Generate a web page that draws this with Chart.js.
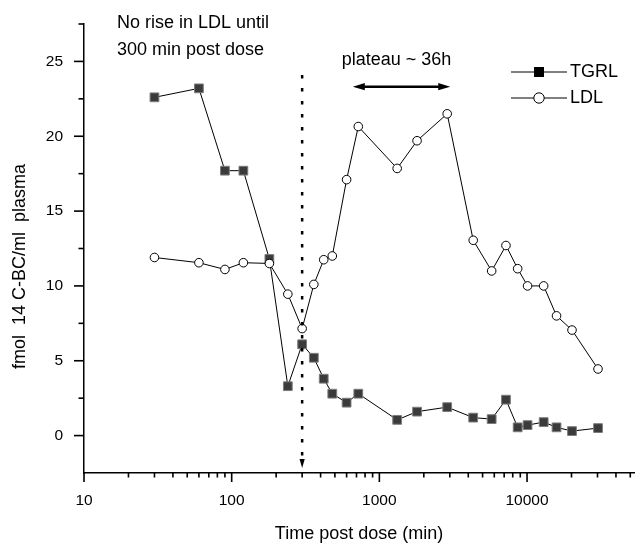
<!DOCTYPE html>
<html>
<head>
<meta charset="utf-8">
<script src="https://cdn.jsdelivr.net/npm/chart.js@4"></script>
<style>
  body { margin: 0; background: #fff; }
</style>
</head>
<body>
<canvas id="doseChart" width="635" height="543"></canvas>
<script>
// time post dose (min)
const times = [30, 60, 90, 120, 180, 240, 300, 360, 420, 480, 600, 720, 1320, 1800, 2880, 4320, 5760, 7200, 8640, 10080, 12960, 15840, 20160, 30240];
const tgrl = [22.6, 23.2, 17.7, 17.7, 11.8, 3.3, 6.1, 5.2, 3.8, 2.8, 2.2, 2.8, 1.05, 1.6, 1.9, 1.2, 1.1, 2.4, 0.55, 0.7, 0.9, 0.55, 0.3, 0.5];
const ldl = [11.9, 11.55, 11.1, 11.55, 11.5, 9.45, 7.15, 10.1, 11.75, 12.0, 17.1, 20.65, 17.85, 19.7, 21.5, 13.05, 11.0, 12.7, 11.15, 10.0, 10.0, 8.0, 7.05, 4.45];

const xTickLabels = [10, 100, 1000, 10000];
const yTickLabels = [0, 5, 10, 15, 20, 25];

const noteLines = ['No rise in LDL until', '300 min post dose'];
const plateauText = 'plateau ~ 36h';

Chart.defaults.font.family = '"Liberation Sans", Arial, sans-serif';
Chart.defaults.color = '#000';

function toPoints(ys) {
    return times.map(function (t, i) { return { x: t, y: ys[i] }; });
}

function noPadding(scale) {
    scale.paddingTop = 0;
    scale.paddingBottom = 0;
    scale.paddingLeft = 0;
    scale.paddingRight = 0;
}

const FONT = '18px "Liberation Sans", Arial, sans-serif';

const overlay = {
    id: 'overlay',
    afterDraw(chart) {
        const ctx = chart.ctx;
        const area = chart.chartArea;
        const x = chart.scales.x;
        const y = chart.scales.y;
        ctx.save();
        ctx.strokeStyle = '#000';
        ctx.fillStyle = '#000';

        // tick marks outside the axes
        const left = x.getPixelForValue(10);
        const bottom = y.getPixelForValue(-2.5);
        xTickLabels.forEach(function (dec) {
            for (let k = 1; k <= 9; k++) {
                const v = dec * k;
                if (v > x.max) break;
                const px = x.getPixelForValue(v);
                ctx.fillRect(px - 0.8, bottom, 1.6, k === 1 ? 9 : 4.5);
            }
        });
        yTickLabels.forEach(function (v) {
            const py = y.getPixelForValue(v);
            ctx.fillRect(left - 10, py - 0.8, 10, 1.6);
            const pm = y.getPixelForValue(v + 2.5);
            ctx.fillRect(left - 5.5, pm - 0.8, 5.5, 1.6);
        });

        // dotted marker at 300 min
        const dx = x.getPixelForValue(300);
        ctx.lineWidth = 2.5;
        ctx.setLineDash([3.5, 9.5]);
        ctx.beginPath();
        ctx.moveTo(dx, y.getPixelForValue(24.1));
        ctx.lineTo(dx, y.getPixelForValue(-1.5));
        ctx.stroke();
        ctx.setLineDash([]);
        const tip = y.getPixelForValue(-2.17);
        ctx.beginPath();
        ctx.moveTo(dx, tip);
        ctx.lineTo(dx - 2.6, tip - 9);
        ctx.lineTo(dx + 2.6, tip - 9);
        ctx.closePath();
        ctx.fill();

        // plateau arrow
        const ax1 = x.getPixelForValue(661);
        const ax2 = x.getPixelForValue(3020);
        const ay = y.getPixelForValue(23.31);
        ctx.lineWidth = 2.5;
        ctx.beginPath();
        ctx.moveTo(ax1 + 8, ay);
        ctx.lineTo(ax2 - 8, ay);
        ctx.stroke();
        ctx.beginPath();
        ctx.moveTo(ax1, ay);
        ctx.lineTo(ax1 + 12, ay - 3.6);
        ctx.lineTo(ax1 + 12, ay + 3.6);
        ctx.closePath();
        ctx.moveTo(ax2, ay);
        ctx.lineTo(ax2 - 12, ay - 3.6);
        ctx.lineTo(ax2 - 12, ay + 3.6);
        ctx.closePath();
        ctx.fill();

        // text notes
        ctx.font = FONT;
        ctx.textBaseline = 'alphabetic';
        ctx.textAlign = 'left';
        ctx.fillText(noteLines[0], x.getPixelForValue(16.7), y.getPixelForValue(27.2));
        ctx.fillText(noteLines[1], x.getPixelForValue(16.7), y.getPixelForValue(25.45));
        ctx.textAlign = 'center';
        ctx.fillText(plateauText, x.getPixelForValue(1306), y.getPixelForValue(24.78));

        // y axis title
        ctx.save();
        ctx.translate(20, 266.5);
        ctx.rotate(-Math.PI / 2);
        ctx.textAlign = 'center';
        ctx.textBaseline = 'middle';
        ctx.fillText('fmol  14 C-BC/ml  plasma', 0, 0);
        ctx.restore();

        // legend
        const lx1 = area.right - 123;
        const lx2 = area.right - 67;
        const lm = area.right - 95;
        const rows = [area.top + 48, area.top + 74];
        ctx.lineWidth = 1;
        rows.forEach(function (ry) {
            ctx.beginPath();
            ctx.moveTo(lx1, ry);
            ctx.lineTo(lx2, ry);
            ctx.stroke();
        });
        ctx.fillRect(lm - 5, rows[0] - 5, 10, 10);
        ctx.beginPath();
        ctx.arc(lm, rows[1], 5.2, 0, Math.PI * 2);
        ctx.fillStyle = '#fff';
        ctx.fill();
        ctx.stroke();
        ctx.fillStyle = '#000';
        ctx.textAlign = 'left';
        ctx.textBaseline = 'middle';
        ctx.fillText('TGRL', area.right - 64, rows[0]);
        ctx.fillText('LDL', area.right - 64, rows[1]);

        ctx.restore();
    }
};

new Chart(document.getElementById('doseChart'), {
    type: 'scatter',
    data: {
        datasets: [{
            label: 'TGRL',
            data: toPoints(tgrl),
            showLine: true,
            order: 2,
            borderColor: '#000',
            borderWidth: 1,
            pointStyle: 'rect',
            pointRadius: 6.2,
            pointBackgroundColor: '#3b3b3b',
            pointBorderColor: '#7d7d7d',
            pointBorderWidth: 1
        }, {
            label: 'LDL',
            data: toPoints(ldl),
            showLine: true,
            order: 1,
            borderColor: '#000',
            borderWidth: 1,
            pointStyle: 'circle',
            pointRadius: 4.3,
            pointBackgroundColor: '#fff',
            pointBorderColor: '#000',
            pointBorderWidth: 1
        }]
    },
    options: {
        responsive: false,
        animation: false,
        layout: { autoPadding: false, padding: { top: 24, right: 1, left: 0, bottom: 0 } },
        plugins: {
            legend: { display: false },
            tooltip: { enabled: false }
        },
        scales: {
            x: {
                type: 'logarithmic',
                min: 10,
                max: 53000,
                afterFit: function (scale) { scale.height = 70; noPadding(scale); },
                border: { display: true, color: '#000', width: 1.5 },
                grid: { display: false },
                ticks: {
                    autoSkip: false,
                    maxRotation: 0,
                    padding: 10,
                    font: { size: 15.5 },
                    color: '#000',
                    callback: function (v) { return xTickLabels.includes(v) ? String(v) : ''; }
                },
                title: {
                    display: true,
                    text: 'Time post dose (min)',
                    font: { size: 18, lineHeight: 1 },
                    padding: 0,
                    color: '#000'
                }
            },
            y: {
                min: -2.5,
                max: 27.5,
                afterFit: function (scale) { scale.width = 84; noPadding(scale); },
                border: { display: true, color: '#000', width: 1.5 },
                grid: { display: false },
                ticks: {
                    stepSize: 2.5,
                    autoSkip: false,
                    padding: 13,
                    font: { size: 15.5 },
                    color: '#000',
                    callback: function (v) { return yTickLabels.includes(v) ? String(v) : ''; }
                }
            }
        }
    },
    plugins: [overlay]
});
</script>
</body>
</html>
